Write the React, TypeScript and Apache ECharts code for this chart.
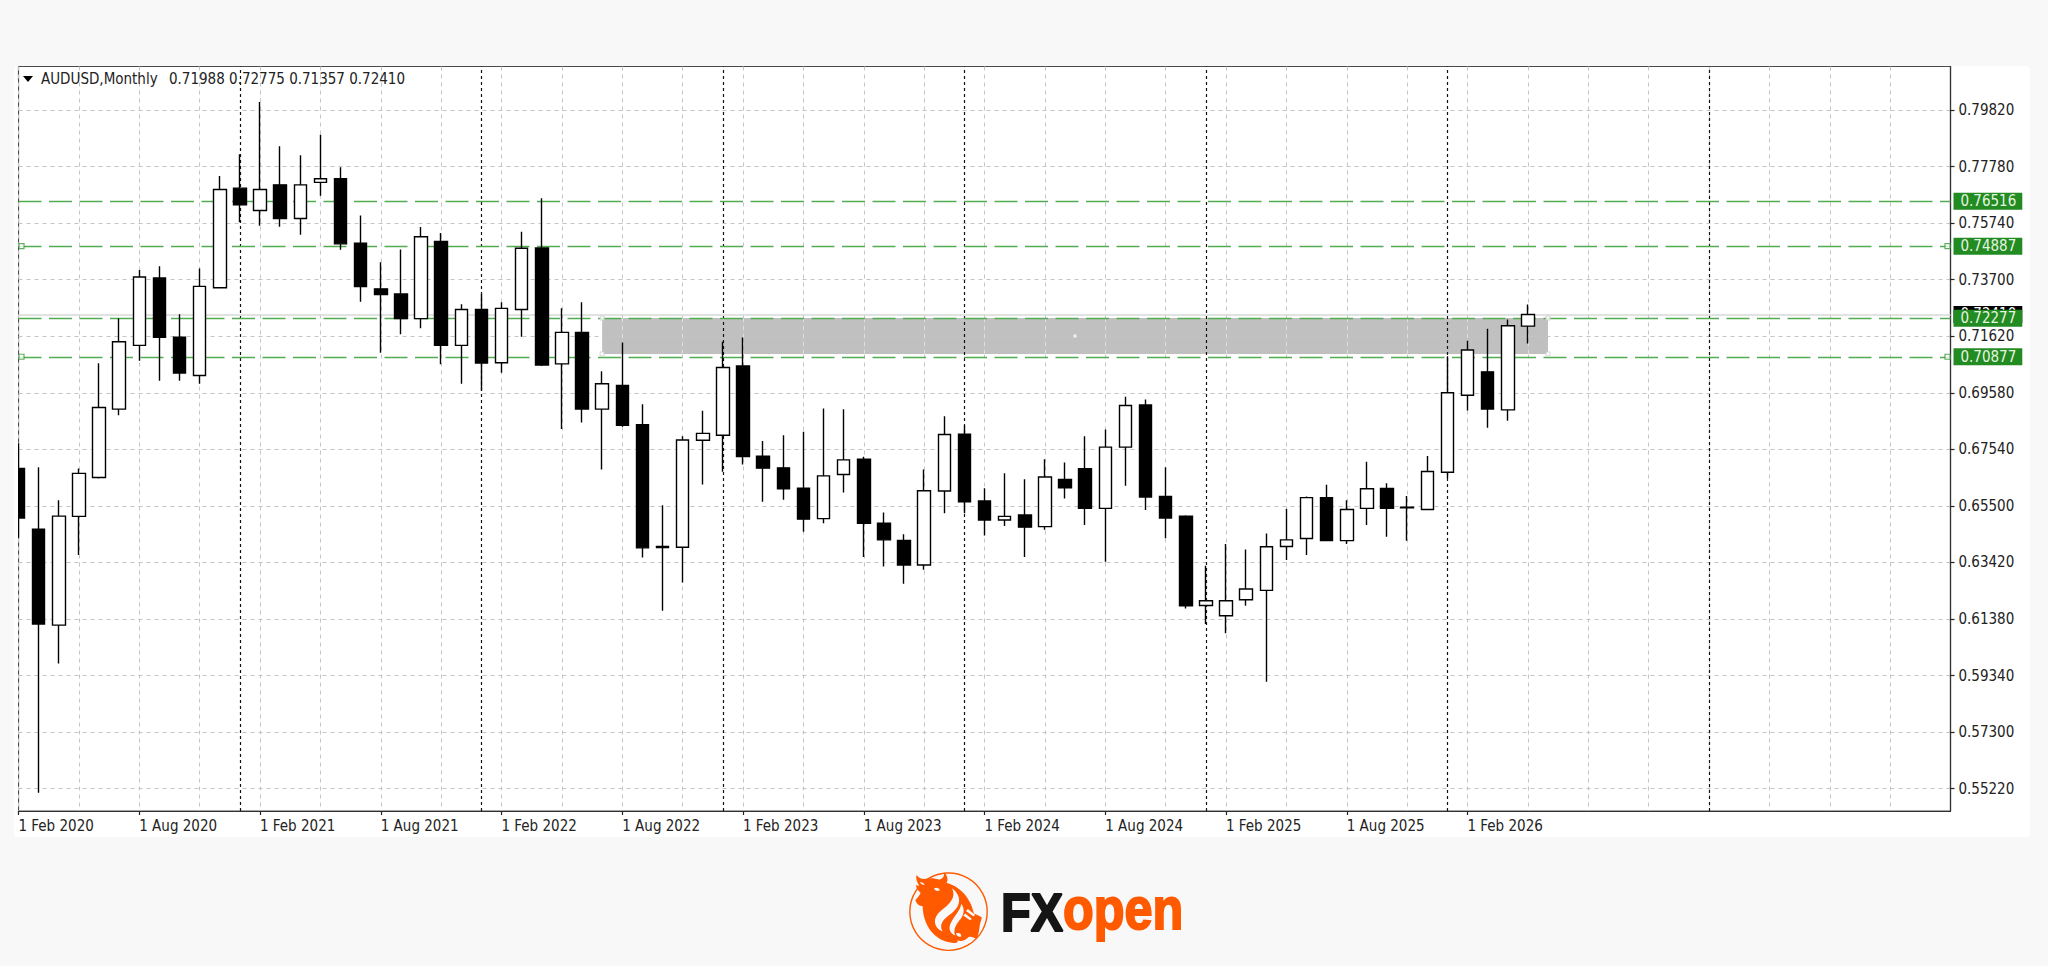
import React, { useEffect, useRef } from "react";
import * as echarts from "echarts";

const pair = "AUDUSD,Monthly";
const quote = "0.71988 0.72775 0.71357 0.72410";
const monthNames = ["Feb", "Mar", "Apr", "May", "Jun", "Jul", "Aug", "Sep", "Oct", "Nov", "Dec", "Jan"];
// one slot per month, Feb 2020 onwards, including the empty future area
const categories = Array.from({ length: 97 }, (_, i) => {
  const yearsOn = Math.floor((i + 1) / 12);
  return `1 ${monthNames[i % 12]} ${2020 + yearsOn}`;
});

const opens = [
  0.6683, 0.6463, 0.6115, 0.6509, 0.665, 0.6898, 0.7129, 0.7373, 0.7159, 0.702, 0.7338, 0.7699,
  0.7618, 0.7711, 0.7589, 0.772, 0.7733, 0.7499, 0.7334, 0.7315, 0.7226, 0.7506, 0.7129, 0.7259,
  0.7066, 0.7259, 0.7482, 0.7062, 0.7176, 0.6898, 0.6984, 0.6841, 0.64, 0.6397, 0.6785, 0.6803,
  0.7054, 0.6727, 0.6685, 0.6611, 0.6501, 0.6661, 0.6716, 0.6484, 0.6422, 0.6333, 0.6601, 0.6807,
  0.6565, 0.6496, 0.6514, 0.6472, 0.6643, 0.6682, 0.6538, 0.676, 0.6913, 0.6581, 0.651, 0.6186,
  0.6149, 0.6207, 0.6241, 0.64, 0.6429, 0.6577, 0.6421, 0.6538, 0.661, 0.6542, 0.6534, 0.6669,
  0.6948, 0.7033, 0.6895, 0.71988,
];
const closes = [
  0.6503, 0.6119, 0.651, 0.6665, 0.6904, 0.7142, 0.7377, 0.7158, 0.7029, 0.7343, 0.7694, 0.7639,
  0.7694, 0.7589, 0.7711, 0.7733, 0.7497, 0.7342, 0.7313, 0.7226, 0.7523, 0.7129, 0.7259, 0.7065,
  0.7263, 0.7481, 0.7058, 0.7176, 0.6898, 0.699, 0.6839, 0.6395, 0.6396, 0.6786, 0.681, 0.7049,
  0.6726, 0.6684, 0.6609, 0.6499, 0.6656, 0.6714, 0.6484, 0.6424, 0.6333, 0.6602, 0.6806, 0.6562,
  0.6496, 0.6509, 0.647, 0.6652, 0.6613, 0.6538, 0.676, 0.6911, 0.6579, 0.6503, 0.6185, 0.6203,
  0.6203, 0.6246, 0.6399, 0.6424, 0.6577, 0.6421, 0.6534, 0.6609, 0.6538, 0.654, 0.6672, 0.6957,
  0.7112, 0.6898, 0.72, 0.7241,
];
const lows = [
  0.6432, 0.5507, 0.5976, 0.6369, 0.6646, 0.6876, 0.7073, 0.7001, 0.7001, 0.699, 0.7336, 0.7575,
  0.7563, 0.7559, 0.753, 0.7671, 0.7476, 0.7287, 0.7102, 0.7169, 0.7191, 0.7061, 0.699, 0.6965,
  0.703, 0.716, 0.7054, 0.6826, 0.6849, 0.6679, 0.6834, 0.636, 0.6167, 0.6269, 0.6625, 0.6671,
  0.6697, 0.6562, 0.6569, 0.6453, 0.6484, 0.6596, 0.6362, 0.6327, 0.6265, 0.6316, 0.652, 0.652,
  0.644, 0.6474, 0.6362, 0.6461, 0.6574, 0.6478, 0.6345, 0.662, 0.6532, 0.643, 0.6175, 0.6119,
  0.6085, 0.6185, 0.591, 0.6351, 0.6369, 0.642, 0.6409, 0.6478, 0.6435, 0.6421, 0.6533, 0.6647,
  0.6893, 0.683, 0.6856, 0.71357,
];
const highs = [
  0.6774, 0.6687, 0.6568, 0.6683, 0.7064, 0.7227, 0.7402, 0.7416, 0.7242, 0.7408, 0.7743, 0.7822,
  0.8011, 0.7851, 0.7818, 0.7893, 0.7775, 0.76, 0.743, 0.7477, 0.7558, 0.7536, 0.7278, 0.7314,
  0.7285, 0.7541, 0.7662, 0.7264, 0.7285, 0.7035, 0.7139, 0.6916, 0.6549, 0.68, 0.6892, 0.7142,
  0.7158, 0.6782, 0.6803, 0.6816, 0.69, 0.6897, 0.6725, 0.6523, 0.6444, 0.6679, 0.6872, 0.6838,
  0.6611, 0.6665, 0.6644, 0.6716, 0.6704, 0.68, 0.6824, 0.6943, 0.6933, 0.6687, 0.6513, 0.633,
  0.6409, 0.6389, 0.6447, 0.6536, 0.6581, 0.6624, 0.6568, 0.6707, 0.6629, 0.6583, 0.6728, 0.709,
  0.7146, 0.7189, 0.7223, 0.72775,
];

const priceTicks = [0.7982, 0.7777, 0.7572, 0.7367, 0.7162, 0.6957, 0.6752, 0.6547, 0.6342, 0.6137, 0.5932, 0.5727, 0.5522];
const tickLabels = ["0.79820", "0.77780", "0.75740", "0.73700", "0.71620", "0.69580", "0.67540", "0.65500", "0.63420", "0.61380", "0.59340", "0.57300", "0.55220"];
const greenLevels = [0.76516, 0.74887, 0.72277, 0.70877];
const anchoredLevels = [0.74887, 0.70877];
const bidPrice = 0.7241;
const zoneTop = 0.7228;
const zoneBottom = 0.7098;
const zoneStart = 29;
const zoneEnd = 76;
const zoneCentre = 52;
const zoneGridSlots = [30, 33, 36, 39, 42, 45, 48, 51, 54, 57, 60, 63, 66, 69, 72, 75];
const separators = [11, 23, 35, 47, 59, 71, 84];
const lastLabelledIndex = 72;

const FONT = "'DejaVu Sans Condensed', 'DejaVu Sans', sans-serif";
const GREEN = "#52ad52";
const ORANGE = "#ff5a00";
const PAGE = "#f8f8f8";

const candleData = opens.map((o, i) => [o, closes[i], lows[i], highs[i]]);

// logo artwork, in the 300x288 space of a 3x view of the 100x96 logo box
const LOGO_BULL =
  "M48 60 L58 64 C52 50 46 42 50 30 C56 38 62 42 72 42 C90 38 106 40 118 44 C128 42 134 34 132 22 " +
  "C142 30 146 44 140 54 C176 62 212 96 222 146 C232 150 240 154 246 158 L240 178 C238 196 236 210 230 222 " +
  "C222 218 214 214 206 216 C196 226 184 232 172 226 C176 232 170 236 160 234 C118 232 70 196 68 124 " +
  "C58 124 50 118 46 106 C52 98 58 92 62 84 C54 76 48 70 48 60 Z";
const LOGO_GAPS =
  "M156 70 C170 96 150 118 122 138 C98 158 98 186 128 200 C116 178 130 162 156 144 C184 122 186 92 156 70 Z " +
  "M184 116 C182 138 158 156 150 180 C146 194 152 206 166 212 C158 194 170 176 182 162 C194 146 194 130 184 116 Z " +
  "M102 70 C110 66 118 70 120 76 C112 80 106 78 102 70 Z " +
  "M60 52 C66 50 72 54 74 60 C68 60 62 58 60 52 Z " +
  "M204 132 L226 150 L220 154 L198 138 Z M196 146 L216 162 L210 166 L190 152 Z " +
  "M168 206 C176 202 184 206 184 214 C178 218 170 214 168 206 Z";

function buildOption(): echarts.EChartsOption {
  const levelLine = greenLevels.map((v) => ({
    yAxis: v,
    label: {
      show: true,
      position: "end" as const,
      distance: 3,
      formatter: v.toFixed(5),
      color: "#e6f5e0",
      backgroundColor: "#228b22",
      fontFamily: FONT,
      fontSize: 15,
      lineHeight: 15,
      padding: [2, 6, 0, 7],
    },
  }));
  return {
    animation: false,
    backgroundColor: "transparent",
    grid: {
      left: 18.5,
      top: 66.5,
      width: 1932,
      height: 744.5,
      show: true,
      borderColor: "#4a4a4a",
      borderWidth: 1.2,
      backgroundColor: "transparent",
    },
    xAxis: {
      type: "category",
      data: categories,
      boundaryGap: false,
      z: 3,
      axisLine: { show: true, lineStyle: { color: "#333", width: 1.2 } },
      axisTick: {
        show: true,
        length: 4,
        lineStyle: { color: "#222", width: 1.2 },
        interval: (i: number) => i % 6 === 0 && i <= lastLabelledIndex,
      },
      axisLabel: {
        show: true,
        interval: (i: number) => i % 6 === 0 && i <= lastLabelledIndex,
        align: "left",
        margin: 7,
        color: "#222",
        fontFamily: FONT,
        fontSize: 15,
        hideOverlap: false,
        showMinLabel: true,
      },
      splitLine: {
        show: true,
        interval: (i: number) => i % 3 === 0,
        lineStyle: { color: "#c4c4c4", type: [4, 4], width: 1 },
      },
    },
    yAxis: {
      type: "value",
      position: "right",
      min: 0.5441,
      max: 0.814,
      z: 3,
      axisLine: { show: true, onZero: false, lineStyle: { color: "#333", width: 1.2 } },
      axisTick: { show: true, length: 4, customValues: priceTicks, lineStyle: { color: "#222", width: 1.2 } },
      axisLabel: {
        show: true,
        customValues: priceTicks,
        margin: 8,
        color: "#222",
        fontFamily: FONT,
        fontSize: 15,
        formatter: (v: number) => tickLabels[priceTicks.findIndex((t) => Math.abs(t - v) < 1e-6)] ?? "",
      },
      splitLine: {
        show: true,
        lineStyle: { color: "#c4c4c4", type: [4, 4], width: 1 },
      },
    },
    series: [
      {
        type: "line",
        name: "zone",
        data: [],
        z: 1,
        silent: true,
        markArea: {
          silent: true,
          itemStyle: { color: "#c0c0c0", opacity: 1 },
          data: [[{ xAxis: zoneStart, yAxis: zoneTop }, { xAxis: zoneEnd, yAxis: zoneBottom }]],
        },
      },
      {
        type: "line",
        name: "zone-grid",
        data: [],
        z: 4,
        silent: true,
        markLine: {
          silent: true,
          symbol: "none",
          precision: 5,
          label: { show: false },
          lineStyle: { color: "#dedede", type: [4, 4], width: 1 },
          data: zoneGridSlots.map((s) => [
            { xAxis: s, yAxis: zoneTop },
            { xAxis: s, yAxis: zoneBottom },
          ]) as any,
        },
      },
      {
        type: "line",
        name: "separators",
        data: [],
        z: 4,
        silent: true,
        markLine: {
          silent: true,
          symbol: "none",
          label: { show: false },
          lineStyle: { color: "#111", type: [3, 3], width: 1.2 },
          data: separators.map((s) => ({ xAxis: s })),
        },
      },
      {
        type: "candlestick",
        name: "AUDUSD",
        data: candleData,
        barWidth: 13,
        z: 5,
        itemStyle: {
          color: "#ffffff",
          color0: "#000000",
          borderColor: "#000000",
          borderColor0: "#000000",
          borderWidth: 1.4,
        },
      },
      {
        type: "line",
        name: "bid",
        data: [],
        z: 6,
        silent: true,
        markLine: {
          silent: true,
          symbol: "none",
          precision: 5,
          lineStyle: { color: "#d9d9d9", type: "solid", width: 1.6 },
          data: [
            {
              yAxis: bidPrice,
              label: {
                show: true,
                position: "end",
                distance: 3,
                formatter: bidPrice.toFixed(5),
                color: "#fff",
                backgroundColor: "#000",
                fontFamily: FONT,
                fontSize: 15,
                lineHeight: 15,
                padding: [2, 6, 0, 7],
              },
            },
          ],
        },
      },
      {
        type: "line",
        name: "levels",
        data: [],
        z: 7,
        silent: true,
        markLine: {
          silent: true,
          symbol: "none",
          precision: 5,
          lineStyle: { color: GREEN, type: [23, 7.5], width: 1.4 },
          data: levelLine,
        },
      },
      {
        type: "scatter",
        name: "anchors-left",
        z: 8,
        silent: true,
        clip: false,
        symbol: "rect",
        symbolSize: 5,
        symbolOffset: [3, 0],
        itemStyle: { color: "#fff", borderColor: "#3a9a3a", borderWidth: 1.2 },
        data: anchoredLevels.map((v) => [0, v]),
      },
      {
        type: "scatter",
        name: "anchors-right",
        z: 8,
        silent: true,
        clip: false,
        symbol: "rect",
        symbolSize: 5,
        symbolOffset: [-3, 0],
        itemStyle: { color: "#fff", borderColor: "#3a9a3a", borderWidth: 1.2 },
        data: anchoredLevels.map((v) => [96, v]),
      },
      {
        type: "scatter",
        name: "zone-handles",
        z: 8,
        silent: true,
        clip: false,
        symbol: "rect",
        symbolSize: 4,
        itemStyle: { color: "#fff", borderColor: "#ccc", borderWidth: 1 },
        data: [
          [zoneStart, zoneTop],
          [zoneStart, zoneBottom],
          [zoneEnd, zoneTop],
          [zoneEnd, zoneBottom],
        ],
      },
      {
        type: "scatter",
        name: "zone-centre",
        z: 8,
        silent: true,
        symbol: "rect",
        symbolSize: 3,
        symbolOffset: [10, 0],
        itemStyle: { color: "#fff" },
        data: [[zoneCentre, (zoneTop + zoneBottom) / 2]],
      },
    ],
    graphic: [
      // the plot clips the first candle at its left edge: cover what falls outside the frame
      { type: "rect", z: 20, shape: { x: 0, y: 66, width: 14, height: 771 }, style: { fill: PAGE } },
      { type: "rect", z: 20, shape: { x: 14, y: 80, width: 4, height: 731 }, style: { fill: "#fff" } },
      {
        type: "polygon",
        z: 20,
        shape: { points: [[23, 76], [33, 76], [28, 82]] },
        style: { fill: "#000" },
      },
      {
        type: "text",
        z: 20,
        x: 41,
        y: 79,
        style: { text: pair, fill: "#222", font: `15px ${FONT}`, verticalAlign: "middle", align: "left" },
      },
      {
        type: "text",
        z: 20,
        x: 169,
        y: 79,
        style: { text: quote, fill: "#222", font: `15px ${FONT}`, verticalAlign: "middle", align: "left" },
      },
      {
        type: "circle",
        z: 20,
        shape: { cx: 948.5, cy: 911.7, r: 38.7 },
        style: { fill: "none", stroke: ORANGE, lineWidth: 1.4 },
      },
      { type: "logoBull", z: 21, x: 900, y: 865, scaleX: 1 / 3, scaleY: 1 / 3, style: { fill: ORANGE } } as any,
      { type: "logoGaps", z: 22, x: 900, y: 865, scaleX: 1 / 3, scaleY: 1 / 3, style: { fill: PAGE } } as any,
      {
        type: "text",
        z: 20,
        x: 1001,
        y: 912,
        scaleX: 0.9,
        style: {
          text: "FX",
          fill: "#151515",
          stroke: "#151515",
          lineWidth: 2,
          font: "700 54px 'Liberation Sans', Arial, sans-serif",
          verticalAlign: "middle",
          align: "left",
        },
      },
      {
        type: "text",
        z: 20,
        x: 1063,
        y: 908,
        scaleX: 0.84,
        style: {
          text: "open",
          fill: ORANGE,
          stroke: ORANGE,
          lineWidth: 2,
          font: "700 60px 'Liberation Sans', Arial, sans-serif",
          verticalAlign: "middle",
          align: "left",
        },
      },
    ],
  };
}

export default function App() {
  const ref = useRef<HTMLDivElement>(null);
  useEffect(() => {
    document.body.style.margin = "0";
    document.body.style.background = PAGE;
    echarts.graphic.registerShape("logoBull", echarts.graphic.extendPath(LOGO_BULL, {}));
    echarts.graphic.registerShape("logoGaps", echarts.graphic.extendPath(LOGO_GAPS, {}));
    const chart = echarts.init(ref.current!, undefined, { renderer: "svg", width: 2048, height: 966 });
    chart.setOption(buildOption());
    return () => chart.dispose();
  }, []);
  return (
    <div style={{ position: "relative", width: 2048, height: 966, background: PAGE, overflow: "hidden" }}>
      <div style={{ position: "absolute", left: 14, top: 66, width: 2016, height: 771, background: "#fff", borderRadius: 4 }} />
      <div ref={ref} style={{ position: "absolute", left: 0, top: 0, width: 2048, height: 966 }} />
    </div>
  );
}
